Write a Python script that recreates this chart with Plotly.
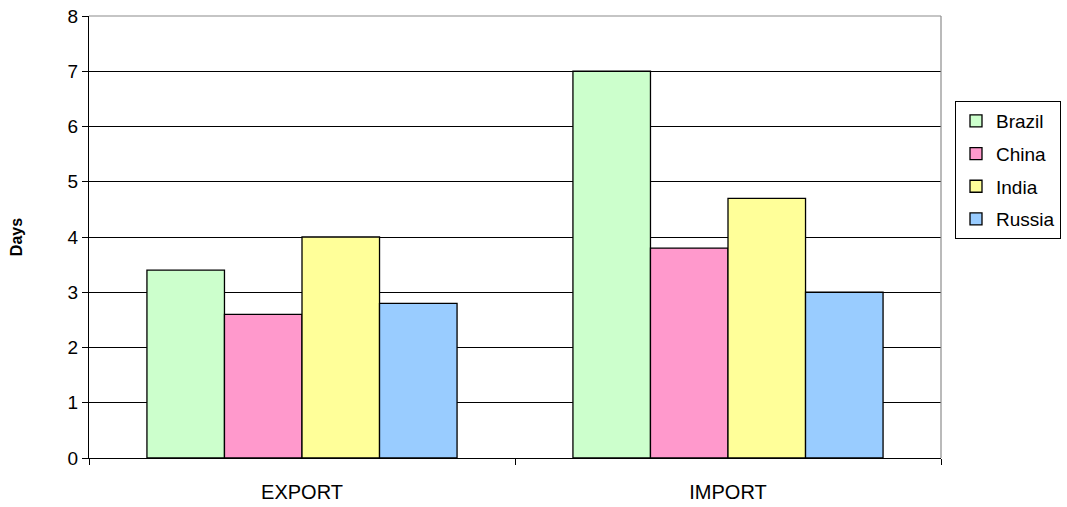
import plotly.graph_objects as go

categories = ["EXPORT", "IMPORT"]
countries = ["Brazil", "China", "India", "Russia"]
brazil = [3.4, 7.0]
china = [2.6, 3.8]
india = [4.0, 4.7]
russia = [2.8, 3.0]
colors = ["#CCFFCC", "#FF99CC", "#FFFF99", "#99CCFF"]
y_ticks = [0, 1, 2, 3, 4, 5, 6, 7, 8]

series = [brazil, china, india, russia]

fig = go.Figure()
for name, vals, col in zip(countries, series, colors):
    fig.add_trace(go.Bar(
        x=categories, y=vals, name=name, legendgroup=name,
        marker=dict(color=col, line=dict(color="#000000", width=1.3)),
    ))

font = "Liberation Sans, Arial, sans-serif"
fig.update_layout(
    width=1067, height=507,
    margin=dict(l=89, r=126, t=16, b=49, autoexpand=False),
    paper_bgcolor="white", plot_bgcolor="white",
    barmode="group", bargap=0.272, bargroupgap=0,
    font=dict(family=font, size=16, color="#000000"),
    showlegend=True,
    legend=dict(
        xref="container", yref="container",
        x=955 / 1067, y=1 - 101 / 507, xanchor="left", yanchor="top",
        bordercolor="#000000", borderwidth=1,
        font=dict(family=font, size=19, color="#000000"),
        itemwidth=30, tracegroupgap=5,
    ),
    xaxis=dict(
        showgrid=False, showline=True, linecolor="#000000", linewidth=1.3,
        ticks="outside", tickson="boundaries", ticklen=6, tickcolor="#000000",
        tickfont=dict(size=20), ticklabelstandoff=16, automargin=False,
    ),
    yaxis=dict(
        range=[0, 8], tickvals=y_ticks, showgrid=True, gridcolor="#000000",
        gridwidth=1.2, showline=True, linecolor="#000000", linewidth=1.3,
        ticks="outside", ticklen=6, tickcolor="#000000", zeroline=False,
        tickfont=dict(size=19), automargin=False,
        title=dict(text="<b>Days</b>", font=dict(size=16), standoff=40),
    ),
    shapes=[
        dict(type="line", xref="paper", yref="paper", x0=0, x1=1, y0=1, y1=1,
             line=dict(color="#8C8C8C", width=1.2), layer="above"),
        dict(type="line", xref="paper", yref="paper", x0=1, x1=1, y0=0, y1=1,
             line=dict(color="#8C8C8C", width=1.2), layer="above"),
    ],
)

fig.write_html("out.html")
